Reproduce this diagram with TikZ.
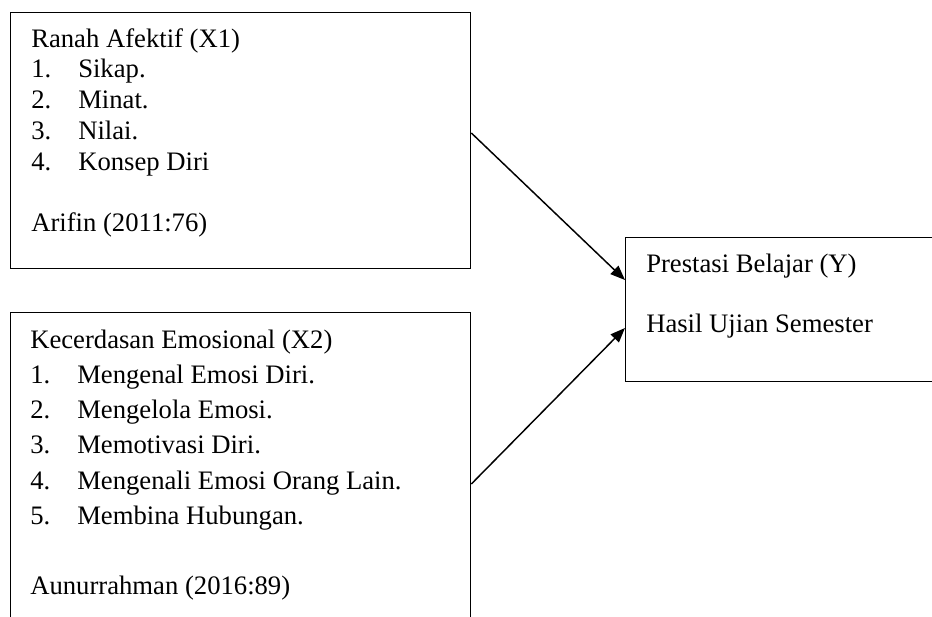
\documentclass[tikz,border=0pt]{standalone}
\usepackage{fontspec}
\setmainfont{Liberation Serif}
\usetikzlibrary{arrows.meta,positioning}
\newcommand{\butir}[2]{\makebox[35.25pt][l]{#1}#2}

\begin{document}
\begin{tikzpicture}[x=0.75pt,y=-0.75pt,
  kotak/.style={draw,line width=1pt,anchor=north west,inner sep=0pt,minimum width=345pt},
  isi/.style={anchor=north west,align=left,inner sep=0pt},
  panah/.style={-{Triangle[length=11pt,width=8.5pt]},line width=1.1pt}]
   \path[use as bounding box] (0,0) rectangle (932,617);
   \clip (0,0) rectangle (932,617);
   \node[kotak,minimum height=192pt] (afektif) at (10,12) {};
   \node[kotak,minimum height=247.5pt] (emosi) at (10,312) {};
   \node[kotak,minimum width=255pt,minimum height=108pt] (prestasi) at (625,237) {};
   \node[isi,font=\fontsize{20}{23.1}\selectfont] (afektif_isi)
      at ([shift={(21,13.2)}]afektif.north west)
      {\strut Ranah Afektif (X1)\\ \butir{1.}{Sikap.}\\ \butir{2.}{Minat.}\\
       \butir{3.}{Nilai.}\\ \butir{4.}{Konsep Diri}\\[23.1pt] Arifin (2011:76)};
   \node[isi,font=\fontsize{20}{26.4}\selectfont] (emosi_isi)
      at ([shift={(20,11.4)}]emosi.north west)
      {\strut Kecerdasan Emosional (X2)\\ \butir{1.}{Mengenal Emosi Diri.}\\
       \butir{2.}{Mengelola Emosi.}\\ \butir{3.}{Memotivasi Diri.}\\
       \butir{4.}{Mengenali Emosi Orang Lain.}\\ \butir{5.}{Membina Hubungan.}\\[26.4pt]
       Aunurrahman (2016:89)};
   \node[isi,font=\fontsize{20}{22.5}\selectfont] (prestasi_isi)
      at ([shift={(21,14)}]prestasi.north west)
      {\strut Prestasi Belajar (Y)\\[22.5pt] Hasil Ujian Semester};
    \path[panah]
    ([shift={(0,121)}]afektif.north east) edge ([shift={(0,43)}]prestasi.north west)
    ([shift={(0,172)}]emosi.north east) edge ([shift={(0,91)}]prestasi.north west);
\end{tikzpicture}
\end{document}
